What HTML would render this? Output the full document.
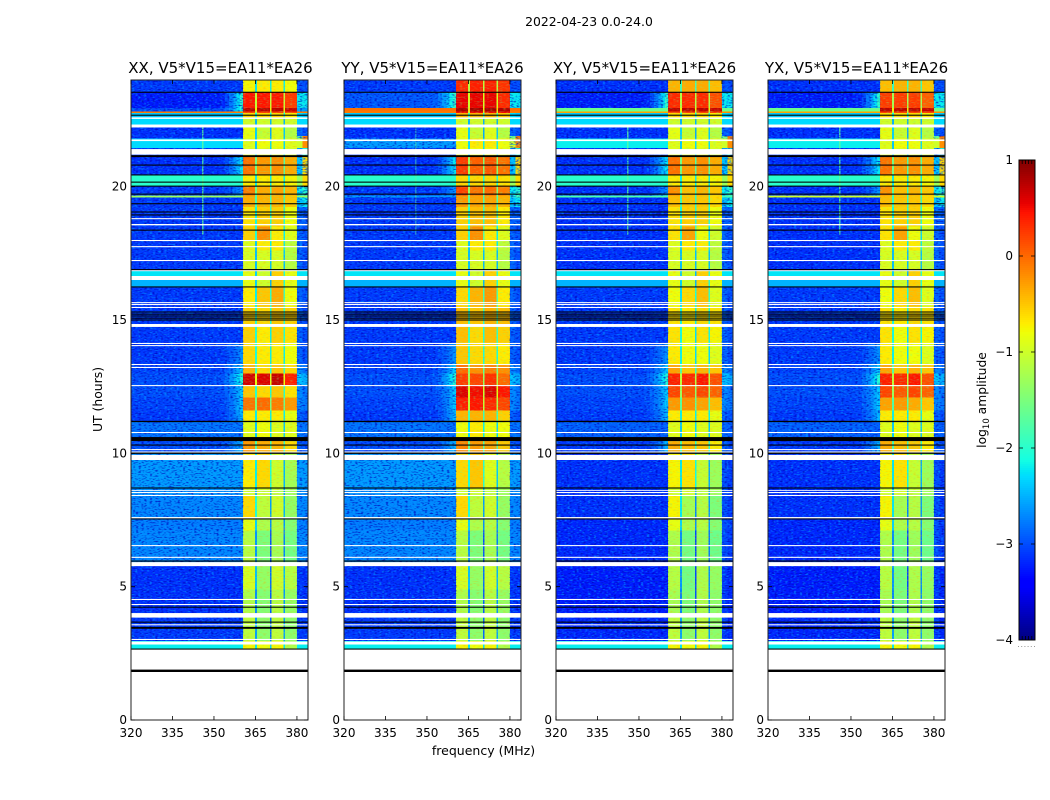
<!DOCTYPE html>
<html lang="en">
<head>
<meta charset="utf-8">
<title>2022-04-23 dynamic spectra</title>
<style>
html,body{margin:0;padding:0;background:#fff;width:1050px;height:800px;overflow:hidden}
svg{display:block}
text{font-family:"DejaVu Sans","Liberation Sans",sans-serif;fill:#000}
</style>
</head>
<body>
<svg id="fig" xmlns="http://www.w3.org/2000/svg" width="1050" height="800" viewBox="0 0 1050 800">
<defs>
<filter id="speckLight" x="0" y="0" width="100%" height="100%" color-interpolation-filters="sRGB">
<feTurbulence type="fractalNoise" baseFrequency="0.34 0.7" numOctaves="1" seed="4"/>
<feColorMatrix type="matrix" values="0 0 0 0 0  0 0 0 0 0.6  0 0 0 0 1  4 0 0 0 -2.0"/>
</filter>
<filter id="speckDark" x="0" y="0" width="100%" height="100%" color-interpolation-filters="sRGB">
<feTurbulence type="fractalNoise" baseFrequency="0.36 0.75" numOctaves="1" seed="11"/>
<feColorMatrix type="matrix" values="0 0 0 0 0  0 0 0 0 0  0 0 0 0 0.72  4 0 0 0 -2.0"/>
</filter>
<filter id="speckWarm" x="0" y="0" width="100%" height="100%" color-interpolation-filters="sRGB">
<feTurbulence type="fractalNoise" baseFrequency="0.3 0.8" numOctaves="1" seed="7"/>
<feColorMatrix type="matrix" values="0 0 0 0 1  0 0 0 0 0.6  0 0 0 0 0  4 0 0 0 -2.1"/>
</filter>
<filter id="speckCool" x="0" y="0" width="100%" height="100%" color-interpolation-filters="sRGB">
<feTurbulence type="fractalNoise" baseFrequency="0.3 0.8" numOctaves="1" seed="23"/>
<feColorMatrix type="matrix" values="0 0 0 0 0.4  0 0 0 0 1  0 0 0 0 0.6  4 0 0 0 -2.1"/>
</filter>
</defs>
<text x="589" y="26" font-size="12.4" text-anchor="middle">2022-04-23 0.0-24.0</text>
<text x="483.5" y="755" font-size="12.5" text-anchor="middle">frequency (MHz)</text>
<text x="0" y="0" font-size="12.4" text-anchor="middle" transform="translate(102,399.5) rotate(-90)">UT (hours)</text>
<text x="0" y="0" font-size="12.3" text-anchor="middle" transform="translate(986,400) rotate(-90)">log<tspan font-size="8.5" dy="3">10</tspan><tspan dy="-3"> amplitude</tspan></text>
<g id="panels"></g>
<g id="cbar"></g>
</svg>
<script>
// Panel titles
const panelTitles = ["XX, V5*V15=EA11*EA26","YY, V5*V15=EA11*EA26","XY, V5*V15=EA11*EA26","YX, V5*V15=EA11*EA26"];
// Tick labels
const xTicks = [320,335,350,365,380];
const yTicks = [0,5,10,15,20];
const cbarTicks = [1,0,-1,-2,-3,-4];
// Time segments (start hour, each runs up to the next; last ends at 24)
const segStart = [2.66,2.96,4.0,4.9,5.77,7.1,7.56,8.4,8.7,10.0,10.61,11.17,11.6,12.1,12.56,13.0,13.35,14.1,14.81,15.5,16.24,16.5,16.84,17.6,18.0,18.5,19.24,19.6,19.66,20.02,20.44,21.11,21.45,21.8,21.9,22.22,22.57,22.76,22.82,22.95,23.54];
// log10 amplitude: off-band level for each product
const lowXX = [-2.2,-3.1,-3.15,-3.15,-2.7,-2.75,-2.7,-2.65,-2.6,-3.0,-2.8,-3.1,-3.05,-3.0,-3.0,-3.05,-3.1,-3.1,-3.1,-3.1,-2.5,-2.25,-3.1,-3.1,-3.1,-3.1,-3.1,-1.3,-3.1,-2.0,-3.15,-3.1,-2.3,-3.15,-3.15,-2.3,-2.4,-0.1,-3.0,-3.25,-3.1];
const lowYY = [-2.2,-3.1,-3.15,-3.15,-2.7,-2.75,-2.7,-2.65,-2.6,-3.0,-2.8,-3.1,-3.05,-3.0,-3.0,-3.05,-3.1,-3.1,-3.1,-3.1,-2.5,-2.25,-3.1,-3.1,-3.1,-3.1,-3.1,-2.6,-3.1,-2.0,-3.15,-3.1,-2.6,-3.15,-3.15,-2.3,-2.4,-0.1,-0.05,-2.95,-3.1];
const lowXY = [-2.2,-3.2,-3.25,-3.25,-3.2,-3.2,-3.15,-3.15,-3.15,-3.1,-2.9,-3.1,-3.05,-3.0,-3.0,-3.05,-3.1,-3.1,-3.1,-3.1,-2.5,-2.25,-3.15,-3.15,-3.15,-3.15,-3.15,-1.8,-3.15,-2.0,-3.15,-3.1,-2.2,-3.15,-3.15,-2.3,-2.4,-0.3,-1.6,-3.25,-3.15];
const lowYX = [-2.2,-3.2,-3.25,-3.25,-3.2,-3.2,-3.15,-3.15,-3.15,-3.1,-2.9,-3.1,-3.05,-3.0,-3.0,-3.05,-3.1,-3.1,-3.1,-3.1,-2.5,-2.25,-3.15,-3.15,-3.15,-3.15,-3.15,-1.0,-3.15,-2.0,-3.15,-3.1,-2.2,-3.15,-3.15,-2.3,-2.4,-0.3,-1.6,-3.25,-3.15];
// Levels above the band (380-382 and 382-384 MHz)
const upperBand = [-2.7,-3.1,-3.1,-3.1,-3.0,-3.0,-3.0,-3.0,-3.0,-2.9,-2.9,-2.9,-2.7,-2.7,-2.4,-2.7,-2.9,-2.9,-2.9,-2.9,-2.7,-2.5,-2.9,-2.9,-2.9,-2.9,-2.4,-2.0,-2.2,-1.3,-2.4,-2.6,-1.0,-1.6,-2.9,-2.4,-2.3,-0.2,-2.5,-2.2,-3.0];
const edgeBand = [-2.9,-3.2,-3.2,-3.2,-3.1,-3.1,-3.1,-3.1,-3.1,-3.0,-3.0,-3.0,-2.8,-2.8,-2.5,-2.8,-3.0,-3.0,-3.0,-3.0,-2.8,-2.6,-3.0,-3.0,-3.0,-2.9,-2.2,-1.8,-2.0,-0.6,-0.6,-2.0,-0.2,-0.1,-3.0,-2.5,-2.4,-0.2,-2.6,-2.2,-3.0];
// Peak of the shoulder just below the band, where present
const shoulder = [null,null,null,null,null,null,null,null,null,-2.4,null,-2.4,-2.3,-2.3,-1.9,-2.3,-2.6,null,null,null,null,null,null,null,null,null,null,null,-2.6,null,-2.1,null,null,null,null,null,null,null,-1.9,-1.8,null];
// Spectral window levels for XX
const windowA = [-0.75,-1.1,-1.2,-0.95,-1.15,-0.85,-0.6,-1.0,-0.7,-0.25,-0.9,-0.7,-0.05,-0.5,0.65,-0.4,-0.6,-0.55,-0.55,-0.7,-0.85,-0.85,-0.95,-0.9,-0.55,-0.65,-0.35,-0.35,-0.1,-0.7,-0.05,-0.9,-0.9,-0.85,-0.85,-1.0,-0.6,0.2,0.75,0.45,-0.75];
const windowB = [-0.8,-1.4,-1.45,-1.35,-1.5,-1.2,-1.1,-1.0,-0.6,-0.35,-0.8,-0.7,0.0,-0.6,0.6,-0.6,-0.7,-0.7,-0.6,-0.5,-1.0,-1.0,-0.95,-0.7,-0.2,-0.55,-0.4,-0.4,-0.35,-0.7,-0.25,-0.9,-0.8,-1.05,-1.05,-1.0,-0.6,0.2,0.75,0.45,-0.7];
const windowC = [-0.75,-1.1,-1.15,-1.0,-1.25,-1.15,-1.0,-1.1,-1.0,-0.4,-0.9,-0.7,-0.1,-0.5,0.7,-0.5,-0.7,-0.55,-0.5,-0.35,-0.55,-0.55,-0.95,-0.7,-0.7,-0.55,-0.4,-0.4,-0.3,-0.7,-0.2,-0.9,-0.8,-0.9,-0.9,-1.0,-0.6,0.2,0.75,0.45,-0.7];
const windowD = [-1.2,-1.4,-1.35,-1.15,-1.55,-1.45,-1.35,-1.3,-1.25,-0.6,-0.9,-0.85,-0.25,-0.65,0.4,-0.6,-0.8,-0.65,-0.55,-0.8,-0.85,-0.85,-1.15,-1.1,-0.9,-0.8,-0.5,-0.5,-0.4,-0.75,-0.35,-0.95,-0.9,-1.15,-1.15,-1.0,-0.7,0.2,0.7,0.25,-0.8];
// Offset from XX window level for the other products
const offsetXX = [0,0,0,0,0,0,0,0,0,0,0,0,0,0,0,0,0,0,0,0,0,0,0,0,0,0,0,0,0,0,0,0,0,0,0,0,0,0,0,0,0];
const offsetYY = [0,0,0,0,0,0,0,0,.1,.1,.1,.3,.45,1.1,-.4,.4,.1,.1,.1,.1,0,0,0,0,0,.1,.1,.1,.3,.1,.3,.1,.1,0,0,0,.2,.3,.1,.1,1.1];
const offsetXY = [0,0,-.05,-.2,-.05,0,-.15,0,-.05,-.1,0,0,-.2,.7,-.25,.1,-.1,-.1,-.1,-.1,0,0,0,0,-.1,0,-.1,-.1,-.1,0,0,0,0,0,0,0,0,0,0,-.1,.35];
const offsetYX = [0,0,-.05,-.2,-.05,0,-.15,0,-.05,-.1,0,0,-.25,.7,-.25,.1,-.1,-.1,-.1,-.1,0,0,0,0,-.1,0,-.1,-.1,-.1,0,0,0,0,0,0,0,0,0,0,-.2,.3];
// Flagged (blank) integrations
const flagStart = [0,2.83,3.0,3.55,3.84,4.31,4.5,5.77,6.08,6.52,7.56,8.4,8.51,8.59,9.75,10.03,10.12,10.76,12.52,13.2,13.31,14.02,14.1,14.74,15.45,15.56,15.63,16.5,16.83,17.21,17.73,17.96,18.55,18.78,21.2,21.71,22.22,22.54];
const flagEnd = [2.66,2.94,3.04,3.59,4.01,4.35,4.54,5.92,6.12,6.56,7.61,8.44,8.55,8.62,9.94,10.07,10.16,10.8,12.56,13.24,13.35,14.06,14.14,14.85,15.49,15.6,15.67,16.65,16.87,17.25,17.77,18.0,18.6,18.82,21.41,21.77,22.33,22.6];
// Zero-valued integrations (black rows)
const zeroStart = [1.8,2.64,3.42,3.65,4.21,5.94,7.52,8.68,9.98,10.29,10.46,11.17,14.98,15.05,15.13,15.2,15.28,16.22,16.87,18.35,18.92,19.03,19.34,19.7,20.0,20.15,20.42,20.79,21.11,22.66,23.52];
const zeroEnd = [1.89,2.68,3.49,3.69,4.25,5.98,7.56,8.72,10.03,10.33,10.61,11.22,15.02,15.09,15.17,15.24,15.32,16.26,16.91,18.39,18.96,19.07,19.38,19.74,20.04,20.19,20.46,20.83,21.18,22.7,23.56];
// Narrow-band interference
const rfiFreq = [345.7];
const rfiStart = [18.2];
const rfiEnd = [22.3];
const rfiLevel = [-1.7];

const NS = "http://www.w3.org/2000/svg";
const AX_W = 177, AX_TOP = 80, AX_BOTTOM = 720;
const panelLeft = [131,344,556,768];
const titleNudge = [1,0,0,0];
const panelOffset = [offsetXX,offsetYY,offsetXY,offsetYX];
const panelLow = [lowXX,lowYY,lowXY,lowYX];
const panelKey = ["xx","yy","xy","yx"];
const windowLevels = [windowA,windowB,windowC,windowD];

function xScale(f,left){ return left + (f-320)/64*AX_W; }
function yScale(h){ return AX_BOTTOM - h/24*(AX_BOTTOM-AX_TOP); }
function interp(pts,t){
  for(let i=1;i<pts.length;i++){
    if(t<=pts[i][0]){
      const a=pts[i-1],b=pts[i];
      return a[1]+(b[1]-a[1])*(t-a[0])/(b[0]-a[0]);
    }
  }
  return pts[pts.length-1][1];
}
const jR=[[0,0],[.35,0],[.66,1],[.89,1],[1,.5]];
const jG=[[0,0],[.125,0],[.375,1],[.64,1],[.91,0],[1,0]];
const jB=[[0,.5],[.11,1],[.34,1],[.65,0],[1,0]];
function colorOf(v){
  const t=Math.max(0,Math.min(1,(v+4)/5));
  const c=[jR,jG,jB].map(p=>Math.round(255*interp(p,t)));
  return "rgb("+c.join(",")+")";
}
function mk(tag,parent,attrs){
  const el=document.createElementNS(NS,tag);
  for(const k in attrs){ el.setAttribute(k,attrs[k]); }
  parent.appendChild(el);
  return el;
}
const panelsG=document.getElementById("panels");

panelTitles.forEach((title,p)=>{
  const left=panelLeft[p], right=left+AX_W;
  const g=mk("g",panelsG,{});
  
  

  const cells=mk("g",g,{"shape-rendering":"crispEdges"});
  
  

  const clip=mk("clipPath",g,{id:"quiet-"+panelKey[p]});

  segStart.forEach((start,i)=>{
    const end = i+1<segStart.length ? segStart[i+1] : 24;
    const low=panelLow[p][i];
    const off=panelOffset[p][i];
    if(low<-2.5){
      mk("rect",clip,{x:left,y:yScale(end).toFixed(2),width:AX_W,height:(yScale(start)-yScale(end)).toFixed(2)});
    }
    const cols=[];
    cols.push([320,352,low]);
    const ramp=[352,354,355.5,357,358.2,359.4,360.5];
    for(let k=0;k<ramp.length-1;k++){
      const w=Math.pow((k+0.5)/(ramp.length-1),1.3);
      const val=(shoulder[i]===null||low>shoulder[i])?low:low+(shoulder[i]-low)*w;
      cols.push([ramp[k],ramp[k+1],val]);
    }
    const edges=[[360.5,364.8],[365.5,370.3],[370.8,375.1],[375.65,380]];
    edges.forEach((e,w)=>{
      const lvl=windowLevels[w][i]+off;
      cols.push([e[0],e[1],lvl]);
      if(w<3){ cols.push([e[1],edges[w+1][0],lvl-1.5]); }
    });
    cols.push([380,382,Math.max(upperBand[i],low)]);
    cols.push([382,384,Math.max(edgeBand[i],low)]);
    cols.forEach(c=>{
      const x0=xScale(c[0],left), x1=xScale(c[1],left);
      const y0=yScale(end), y1=yScale(start);
      const r=mk("rect",cells,{x:x0.toFixed(2),y:y0.toFixed(2),width:(x1-x0).toFixed(2),height:(y1-y0).toFixed(2),fill:colorOf(c[2])});
      
      
    });
  });

  rfiFreq.forEach((f,i)=>{
    const r=mk("rect",g,{x:xScale(f,left).toFixed(2),y:yScale(rfiEnd[i]).toFixed(2),width:1.4,height:(yScale(rfiStart[i])-yScale(rfiEnd[i])).toFixed(2),fill:colorOf(rfiLevel[i]),opacity:p===1?0.45:0.85});
    
    
  });

  // Receiver-noise texture over the off-band region (quiet rows only)
  const quiet=mk("g",g,{"clip-path":"url(#quiet-"+panelKey[p]+")"});
  
  
  [["speckLight",0.65],["speckDark",0.7]].forEach(s=>{
    mk("rect",quiet,{x:left,y:AX_TOP,width:(xScale(360.5,left)-left).toFixed(2),height:yScale(segStart[0])-AX_TOP,filter:"url(#"+s[0]+")",opacity:s[1]});
    mk("rect",quiet,{x:xScale(380,left).toFixed(2),y:AX_TOP,width:(xScale(384,left)-xScale(380,left)).toFixed(2),height:yScale(segStart[0])-AX_TOP,filter:"url(#"+s[0]+")",opacity:s[1]});
  });
  // Fine texture inside the spectral windows
  [["speckWarm",0.3],["speckCool",0.28]].forEach(s=>{
    const n=mk("rect",g,{x:xScale(360.5,left).toFixed(2),y:AX_TOP,width:(xScale(380,left)-xScale(360.5,left)).toFixed(2),height:yScale(segStart[0])-AX_TOP,filter:"url(#"+s[0]+")",opacity:s[1]});
    
    
  });

  flagStart.forEach((s,i)=>{
    const r=mk("rect",g,{x:left,y:yScale(flagEnd[i]).toFixed(2),width:AX_W,height:(yScale(s)-yScale(flagEnd[i])).toFixed(2),fill:"#fff"});
    
    
  });
  zeroStart.forEach((s,i)=>{
    const r=mk("rect",g,{x:left,y:yScale(zeroEnd[i]).toFixed(2),width:AX_W,height:(yScale(s)-yScale(zeroEnd[i])).toFixed(2),fill:"#000"});
    
    
  });

  const frame=mk("rect",g,{x:left,y:AX_TOP,width:AX_W,height:AX_BOTTOM-AX_TOP,fill:"none",stroke:"#222",'stroke-width':1});
  
  

  xTicks.forEach(t=>{
    const x=xScale(t,left);
    const tick=mk("path",g,{d:"M"+x+" "+AX_BOTTOM+"v-4M"+x+" "+AX_TOP+"v4",stroke:"#000",'stroke-width':0.8,fill:"none"});
    
    
    const lab=mk("text",g,{x:x,y:AX_BOTTOM+17,'font-size':12,'text-anchor':"middle"});
    lab.textContent=t;
    
    
  });
  yTicks.forEach(t=>{
    const y=yScale(t);
    const tick=mk("path",g,{d:"M"+left+" "+y+"h4M"+right+" "+y+"h-4",stroke:"#000",'stroke-width':0.8,fill:"none"});
    
    
    const lab=mk("text",g,{x:left-4,y:y+4,'font-size':12,'text-anchor':"end"});
    lab.textContent=t;
    
    
  });
  const ttl=mk("text",g,{x:left+AX_W/2+titleNudge[p],y:73,'font-size':15,'text-anchor':"middle"});
  ttl.textContent=title;
  
  
});

// Colorbar
const cbarG=document.getElementById("cbar");
const CB_X=1019, CB_W=16, CB_TOP=160, CB_BOTTOM=640;
function cbY(v){ return CB_BOTTOM-(v+4)/5*(CB_BOTTOM-CB_TOP); }
const cbCells=mk("g",cbarG,{"shape-rendering":"crispEdges"});
for(let yy=CB_TOP;yy<CB_BOTTOM;yy+=2){
  const v=-4+(CB_BOTTOM-yy-1)/(CB_BOTTOM-CB_TOP)*5;
  const r=mk("rect",cbCells,{x:CB_X,y:yy,width:CB_W,height:2,fill:colorOf(v)});
  
  
}
const cbFrame=mk("rect",cbarG,{x:CB_X,y:CB_TOP,width:CB_W,height:CB_BOTTOM-CB_TOP,fill:"none",stroke:"#000",'stroke-width':1});


cbarTicks.forEach(t=>{
  const y=cbY(t);
  const tick=mk("path",cbarG,{d:"M"+CB_X+" "+y+"h4M"+(CB_X+CB_W)+" "+y+"h-4",stroke:"#000",'stroke-width':0.8,fill:"none"});
  
  
  const lab=mk("text",cbarG,{x:1013,y:y+4,'font-size':12,'text-anchor':"end"});
  lab.textContent=String(t).replace("-","\u2212");
  
  
});
[CB_TOP,CB_BOTTOM].forEach(yy=>{
  for(let k=1;k<5;k++){
    const dir=yy===CB_TOP?4:-4;
    const m=mk("path",cbarG,{d:"M"+(CB_X+k*CB_W/5)+" "+yy+"v"+dir,stroke:"#000",'stroke-width':0.8});
    
    
  }
});
const dots=mk("path",cbarG,{d:"M1018 646.5H1036",stroke:"#999",'stroke-width':1,'stroke-dasharray':"1 2.2",fill:"none"});


</script>
</body>
</html>
